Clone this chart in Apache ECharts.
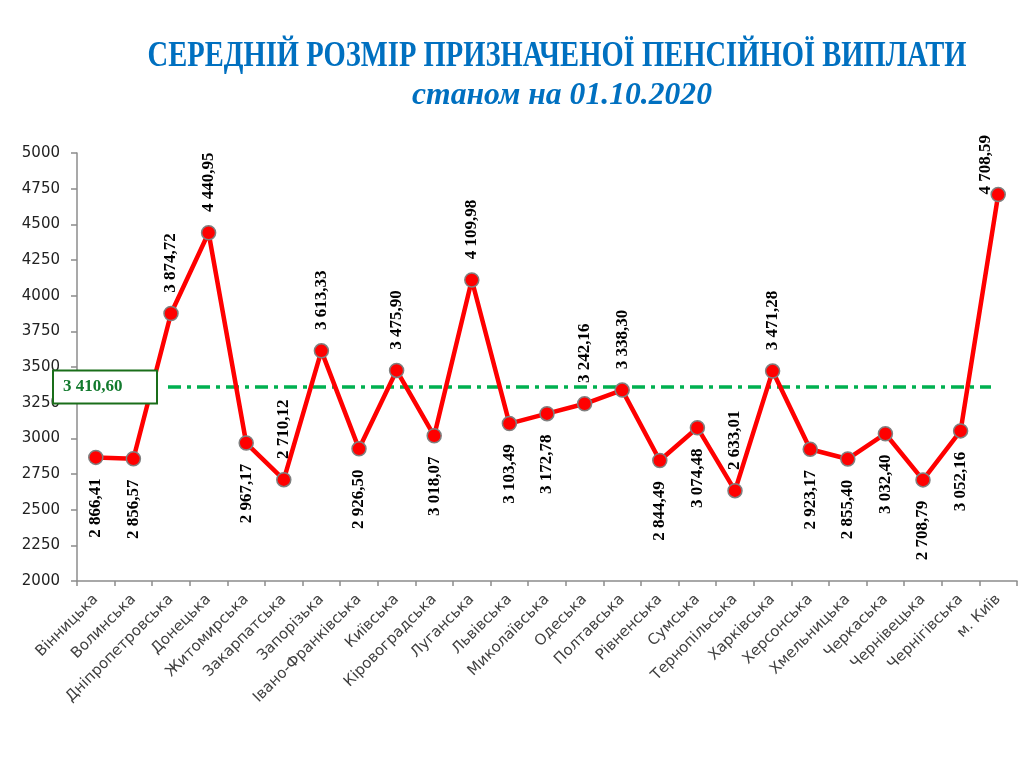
<!DOCTYPE html>
<html>
<head>
<meta charset="utf-8">
<script src="https://cdn.jsdelivr.net/npm/echarts@6/dist/echarts.min.js"></script>
<style>
html,body{margin:0;padding:0;background:#ffffff;}
#chart{width:1024px;height:759px;}
</style>
</head>
<body>
<div id="chart"></div>
<script>
// ---- data ----
const titleLine1 = 'СЕРЕДНІЙ РОЗМІР ПРИЗНАЧЕНОЇ ПЕНСІЙНОЇ ВИПЛАТИ';
const titleLine2 = 'станом на 01.10.2020';

const categories = [
  'Вінницька', 'Волинська', 'Дніпропетровська', 'Донецька', 'Житомирська',
  'Закарпатська', 'Запорізька', 'Івано-Франківська', 'Київська', 'Кіровоградська',
  'Луганська', 'Львівська', 'Миколаївська', 'Одеська', 'Полтавська',
  'Рівненська', 'Сумська', 'Тернопільська', 'Харківська', 'Херсонська',
  'Хмельницька', 'Черкаська', 'Чернівецька', 'Чернігівська', 'м. Київ'
];

const pensionValues = [
  2866.41, 2856.57, 3874.72, 4440.95, 2967.17,
  2710.12, 3613.33, 2926.50, 3475.90, 3018.07,
  4109.98, 3103.49, 3172.78, 3242.16, 3338.30,
  2844.49, 3074.48, 2633.01, 3471.28, 2923.17,
  2855.40, 3032.40, 2708.79, 3052.16, 4708.59
];

const averageValue = 3410.60;      // value printed in the box
const averageLineLevel = 3360;     // level at which the dashed line is drawn in the picture

const yMin = 2000, yMax = 5000, yStep = 250;

// label placement (layout, not data)
const labelSides = [
  'bottom', 'bottom', 'top', 'top', 'bottom',
  'top', 'top', 'bottom', 'top', 'bottom',
  'top', 'bottom', 'bottom', 'top', 'top',
  'bottom', 'bottom', 'top', 'top', 'bottom',
  'bottom', 'bottom', 'bottom', 'bottom', 'left'
];

function fmtUA(v) {
  const parts = v.toFixed(2).split('.');
  return parts[0].replace(/\B(?=(\d{3})+(?!\d))/g, ' ') + ',' + parts[1];
}

const chart = echarts.init(document.getElementById('chart'), null, {renderer: 'canvas'});

const seriesData = pensionValues.map((v, i) => {
  const side = labelSides[i];
  return {
    value: v,
    label: {
      position: side,
      align: side === 'bottom' ? 'right' : 'left',
      distance: side === 'left' ? 5 : 13
    }
  };
});

chart.setOption({
  animation: false,
  backgroundColor: '#ffffff',
  grid: {left: 77, right: 7, top: 153, bottom: 178, containLabel: false},
  xAxis: {
    type: 'category',
    data: categories,
    boundaryGap: true,
    axisLine: {show: true, lineStyle: {color: '#8c8c8c', width: 1.5}},
    axisTick: {show: true, alignWithLabel: false, length: 5, lineStyle: {color: '#8c8c8c', width: 1.5}},
    axisLabel: {
      interval: 0, rotate: 45, margin: 16,
      fontFamily: 'DejaVu Sans', fontSize: 15, color: '#404040'
    },
    splitLine: {show: false}
  },
  yAxis: {
    type: 'value',
    min: yMin, max: yMax, interval: yStep,
    axisLine: {show: true, lineStyle: {color: '#8c8c8c', width: 1.5}},
    axisTick: {show: true, inside: false, length: 6, lineStyle: {color: '#8c8c8c', width: 1.5}},
    axisLabel: {
      margin: 17, fontFamily: 'DejaVu Sans', fontSize: 15, color: '#222222',
      formatter: v => String(v)
    },
    splitLine: {show: false}
  },
  series: [{
    type: 'line',
    data: seriesData,
    z: 5,
    symbol: 'circle',
    symbolSize: 14,
    lineStyle: {color: '#ff0000', width: 4.5},
    itemStyle: {color: '#ff0000', borderColor: '#7f7f7f', borderWidth: 1.5},
    label: {
      show: true,
      rotate: 90,
      verticalAlign: 'middle',
      fontFamily: 'Liberation Serif',
      fontWeight: 'bold',
      fontSize: 17,
      color: '#000000',
      formatter: p => fmtUA(p.value)
    },
    emphasis: {disabled: true}
  }]
});

// measure title widths so they fit the reference extents
function measure(font, text) {
  const c = document.createElement('canvas').getContext('2d');
  c.font = font;
  return c.measureText(text).width;
}
const t1Font = 'bold 35px "Liberation Serif"';
const t2Font = 'italic bold 32px "Liberation Serif"';
const t1Scale = 819 / measure(t1Font, titleLine1);
const t2Scale = 300 / measure(t2Font, titleLine2);

const avgY = chart.convertToPixel({yAxisIndex: 0}, averageLineLevel);

chart.setOption({
  graphic: [
    {
      type: 'text', x: 557, y: 57, scaleX: t1Scale, z: 10,
      style: {
        text: titleLine1, font: t1Font, fill: '#0070c0',
        align: 'center', verticalAlign: 'middle'
      }
    },
    {
      type: 'text', x: 562, y: 96, scaleX: t2Scale, z: 10,
      style: {
        text: titleLine2, font: t2Font, fill: '#0070c0',
        align: 'center', verticalAlign: 'middle'
      }
    },
    {
      type: 'line', z: 1,
      shape: {x1: 168, y1: avgY, x2: 991, y2: avgY},
      style: {stroke: '#00b050', lineWidth: 3.5, lineDash: [13, 6, 4, 6]}
    },
    {
      type: 'rect', z: 10,
      shape: {x: 53, y: avgY - 16.5, width: 104, height: 33},
      style: {fill: '#ffffff', stroke: '#1a6e1a', lineWidth: 2}
    },
    {
      type: 'text', x: 63, y: avgY, z: 11,
      style: {
        text: fmtUA(averageValue), font: 'bold 17px "Liberation Serif"',
        fill: '#137a2e', align: 'left', verticalAlign: 'middle'
      }
    }
  ]
});
</script>
</body>
</html>
